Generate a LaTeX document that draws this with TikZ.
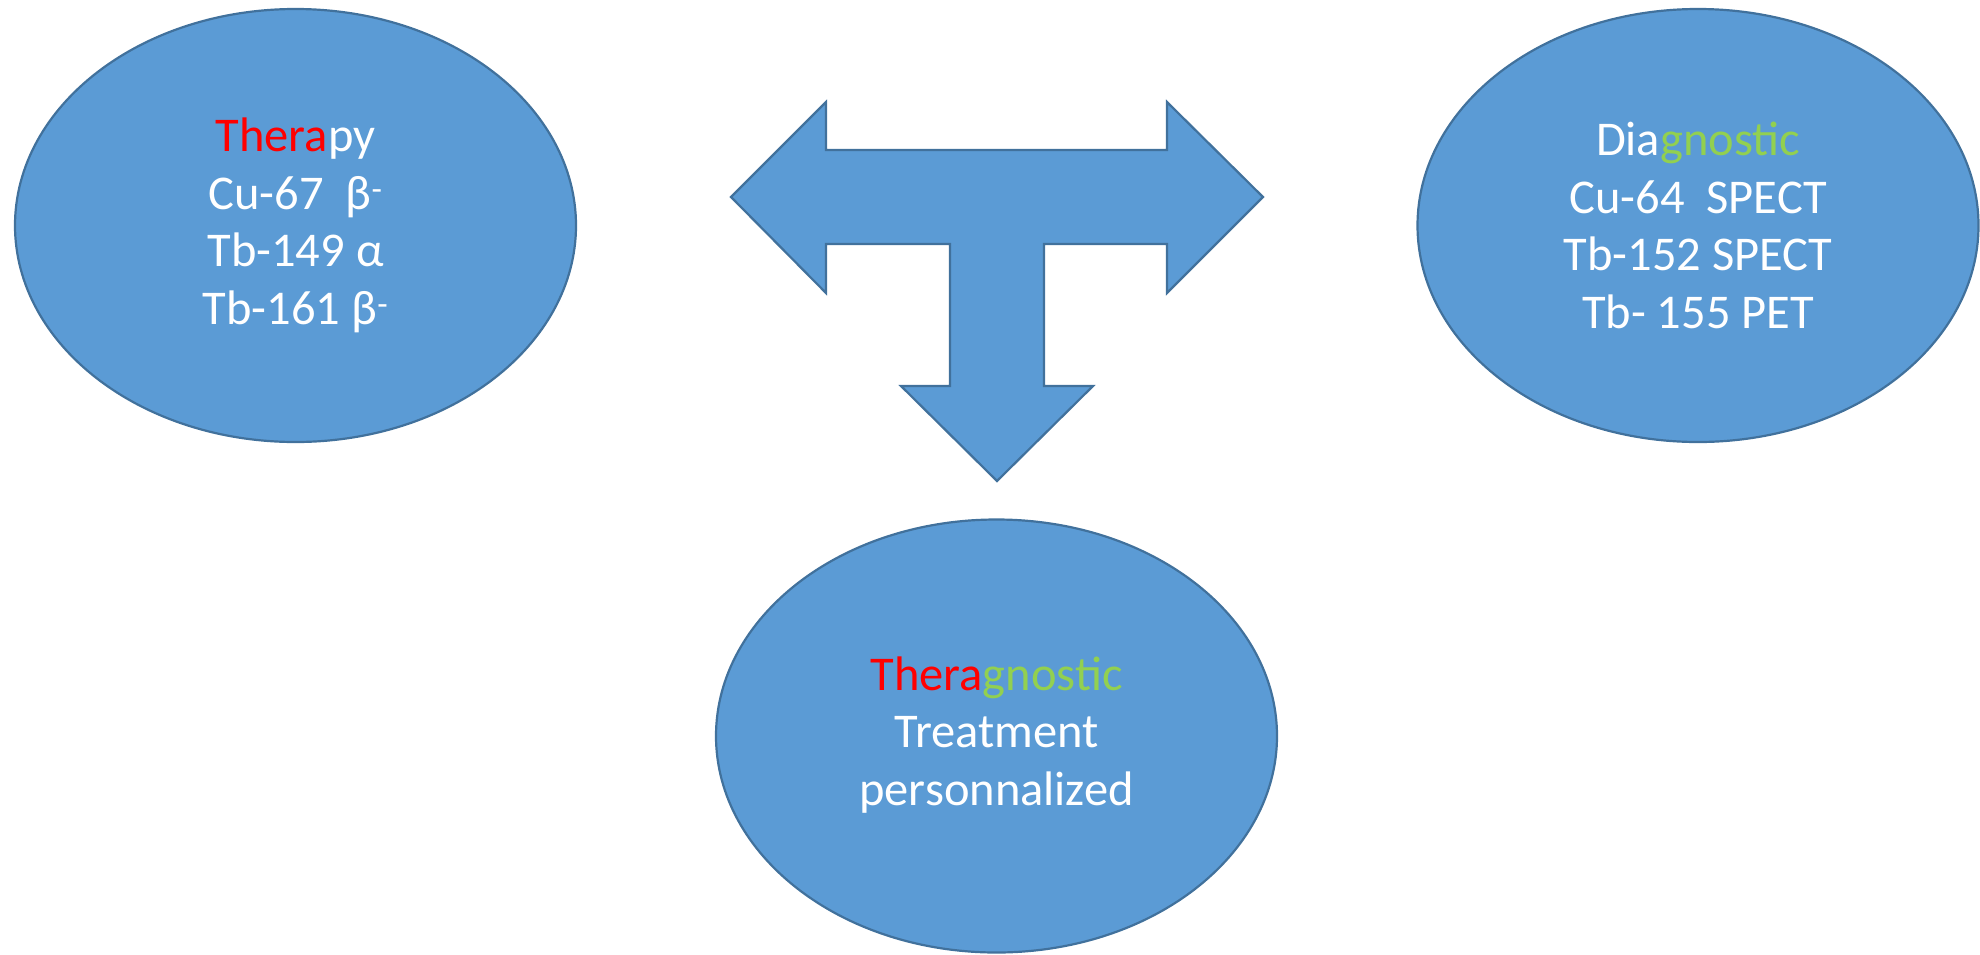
\documentclass[tikz,border=0pt]{standalone}
\usepackage{fontspec}
\setmainfont{Carlito}
\usetikzlibrary{shapes.geometric}
\definecolor{obl}{HTML}{5B9BD5}
\definecolor{obd}{HTML}{41719C}
\definecolor{tred}{HTML}{FF0000}
\definecolor{tgreen}{HTML}{92D050}
\begin{document}
\begin{tikzpicture}[x=1pt,y=-1pt,
  bubble/.style={ellipse, draw=obd, line width=2.2pt, fill=obl,
    minimum width=561pt, minimum height=433pt, inner sep=0pt, outer sep=0pt},
  lbl/.style={text=white, font=\fontsize{48.5}{57.5}\selectfont, align=center, inner sep=0pt},
  bigarrow/.style={draw=obd, line width=2.2pt, fill=obl, line join=miter}]
\useasboundingbox (0,0) rectangle (1980,954);
\node[bubble] (ther) at (295.5,225.5) {};
\node[bubble] (diag) at (1698,225.5) {};
\node[bubble] (thgn) at (996.5,736) {};
\node[lbl] (thertxt) at (ther.center) {{\color{tred}Thera}py\\Cu-67\ \ β\textsuperscript{-}\\Tb-149 α\\Tb-161 β\textsuperscript{-}};
\node[lbl] (diagtxt) at (diag.center) {Dia{\color{tgreen}gnostic}\\Cu-64\ \ SPECT\\Tb-152 SPECT\\Tb- 155 PET};
\node[lbl] (thgntxt) at ([yshift=1pt]thgn.center) {{\color{tred}Thera}{\color{tgreen}gnostic}\\Treatment\\personnalized};
\draw[bigarrow] (731,197) -- (826,102) -- (826,150) -- (1167,150) -- (1167,102)
  -- (1263,197) -- (1167,293) -- (1167,244) -- (1044,244) -- (1044,386)
  -- (1093,386) -- (997,481) -- (901,386) -- (950,386) -- (950,244)
  -- (826,244) -- (826,293) -- cycle;
\end{tikzpicture}
\end{document}
